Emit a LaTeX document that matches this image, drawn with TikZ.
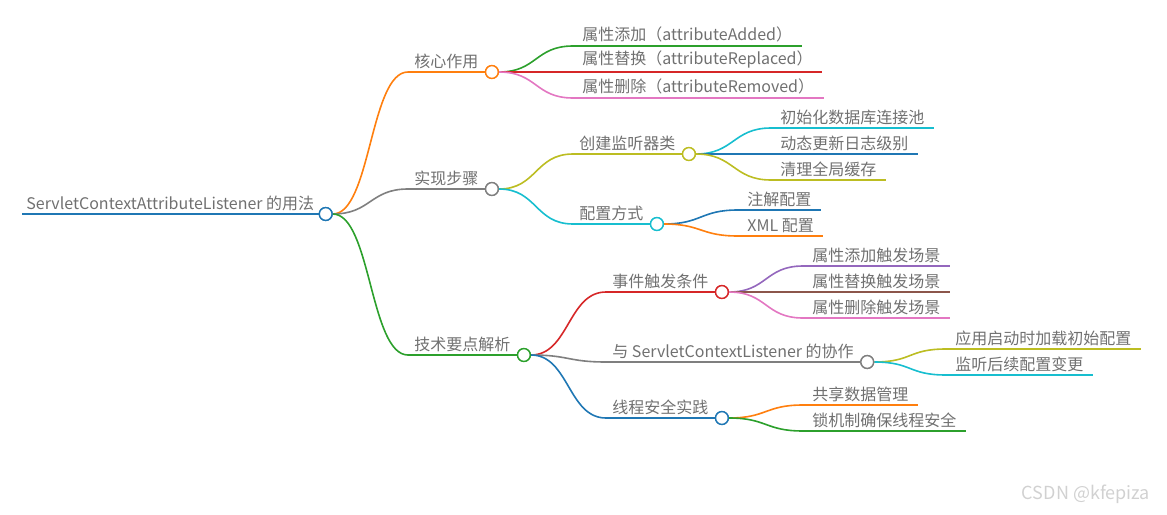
\documentclass[tikz,border=0pt]{standalone}
\usepackage{fontspec}
\setmainfont{Noto Sans CJK SC}
\usetikzlibrary{positioning}
\definecolor{mblue}{HTML}{1F77B4}
\definecolor{morange}{HTML}{FF7F0E}
\definecolor{mgreen}{HTML}{2CA02C}
\definecolor{mred}{HTML}{D62728}
\definecolor{mpurple}{HTML}{9467BD}
\definecolor{mbrown}{HTML}{8C564B}
\definecolor{mpink}{HTML}{E377C2}
\definecolor{mgray}{HTML}{7F7F7F}
\definecolor{molive}{HTML}{BCBD22}
\definecolor{mcyan}{HTML}{17BECF}
\definecolor{textgray}{HTML}{707070}
\tikzset{
  label/.style={anchor=south west, inner xsep=4.5pt, inner ysep=1.6pt, font=\fontsize{8pt}{9.5pt}\selectfont, text=textgray},
  branch/.style={label, inner xsep=3pt},
  dot/.style={circle, draw, fill=white, line width=0.7pt, minimum size=6.4pt, inner sep=0pt},
  wire/.style={line width=0.8pt}
}
\begin{document}
\begin{tikzpicture}[x=0.5pt, y=-0.5pt]
  \useasboundingbox (0,0) rectangle (1167,514);
  %Defining nodes
  \node[branch, inner xsep=2pt] (root) at (22,214) {ServletContextAttributeListener 的用法};
  \node[dot, draw=mblue, right=0pt of root.south east] (root-d) {};

  \node[branch] (core) at (408,72) {核心作用};
  \node[dot, draw=morange, right=0pt of core.south east] (core-d) {};
  \node[branch] (steps) at (408,189) {实现步骤};
  \node[dot, draw=mgray, right=0pt of steps.south east] (steps-d) {};
  \node[branch] (tech) at (408,355) {技术要点解析};
  \node[dot, draw=mgreen, right=0pt of tech.south east] (tech-d) {};

  \node[label] (added) at (573,46) {属性添加（attributeAdded）};
  \node[label] (replaced) at (573,72) {属性替换（attributeReplaced）};
  \node[label] (removed) at (573,98) {属性删除（attributeRemoved）};

  \node[branch] (create) at (573,154) {创建监听器类};
  \node[dot, draw=molive, right=0pt of create.south east] (create-d) {};
  \node[branch] (config) at (573,224) {配置方式};
  \node[dot, draw=mcyan, right=0pt of config.south east] (config-d) {};

  \node[label] (pool) at (771,128) {初始化数据库连接池};
  \node[label] (loglevel) at (771,154) {动态更新日志级别};
  \node[label] (cache) at (771,180) {清理全局缓存};
  \node[label] (annot) at (738,210) {注解配置};
  \node[label] (xml) at (738,236) {XML 配置};

  \node[branch] (event) at (606,292) {事件触发条件};
  \node[dot, draw=mred, right=0pt of event.south east] (event-d) {};
  \node[branch] (coop) at (606,362) {与 ServletContextListener 的协作};
  \node[dot, draw=mgray, right=0pt of coop.south east] (coop-d) {};
  \node[branch] (thread) at (606,418) {线程安全实践};
  \node[dot, draw=mblue, right=0pt of thread.south east] (thread-d) {};

  \node[label] (evadd) at (803,266) {属性添加触发场景};
  \node[label] (evrep) at (803,292) {属性替换触发场景};
  \node[label] (evrem) at (803,318) {属性删除触发场景};
  \node[label] (startup) at (946,349) {应用启动时加载初始配置};
  \node[label] (later) at (946,375) {监听后续配置变更};
  \node[label] (shared) at (803,405) {共享数据管理};
  \node[label] (lock) at (803,431) {锁机制确保线程安全};

  \node[text=black!18, font=\fontsize{9pt}{10pt}\selectfont] (mark) at (1086,494) {CSDN @kfepiza};

  %Drawing Diagram
  \foreach \n/\c in {root/mblue, core/morange, steps/mgray, tech/mgreen, create/molive, config/mcyan, event/mred, coop/mgray, thread/mblue}
    \draw[wire, \c] (\n.south west) -- (\n-d.west);
  \foreach \n/\c in {added/mgreen, replaced/mred, removed/mpink, pool/mcyan, loglevel/mblue, cache/molive, annot/mblue, xml/morange, evadd/mpurple, evrep/mbrown, evrem/mpink, startup/molive, later/mcyan, shared/morange, lock/mgreen}
    \draw[wire, \c] (\n.south west) -- (\n.south east);
  \foreach \p/\n/\c in {root/core/morange, root/steps/mgray, root/tech/mgreen, core/added/mgreen, core/replaced/mred, core/removed/mpink, steps/create/molive, steps/config/mcyan, create/pool/mcyan, create/loglevel/mblue, create/cache/molive, config/annot/mblue, config/xml/morange, tech/event/mred, tech/coop/mgray, tech/thread/mblue, event/evadd/mpurple, event/evrep/mbrown, event/evrem/mpink, coop/startup/molive, coop/later/mcyan, thread/shared/morange, thread/lock/mgreen}
    \draw[wire, \c] (\p-d.east) .. controls +(19pt,0) and +(-19pt,0) .. (\n.south west);
  % redraw dots over the wires
  \foreach \n/\c in {root/mblue, core/morange, steps/mgray, tech/mgreen, create/molive, config/mcyan, event/mred, coop/mgray, thread/mblue}
    \node[dot, draw=\c] at (\n-d) {};
\end{tikzpicture}
\end{document}
